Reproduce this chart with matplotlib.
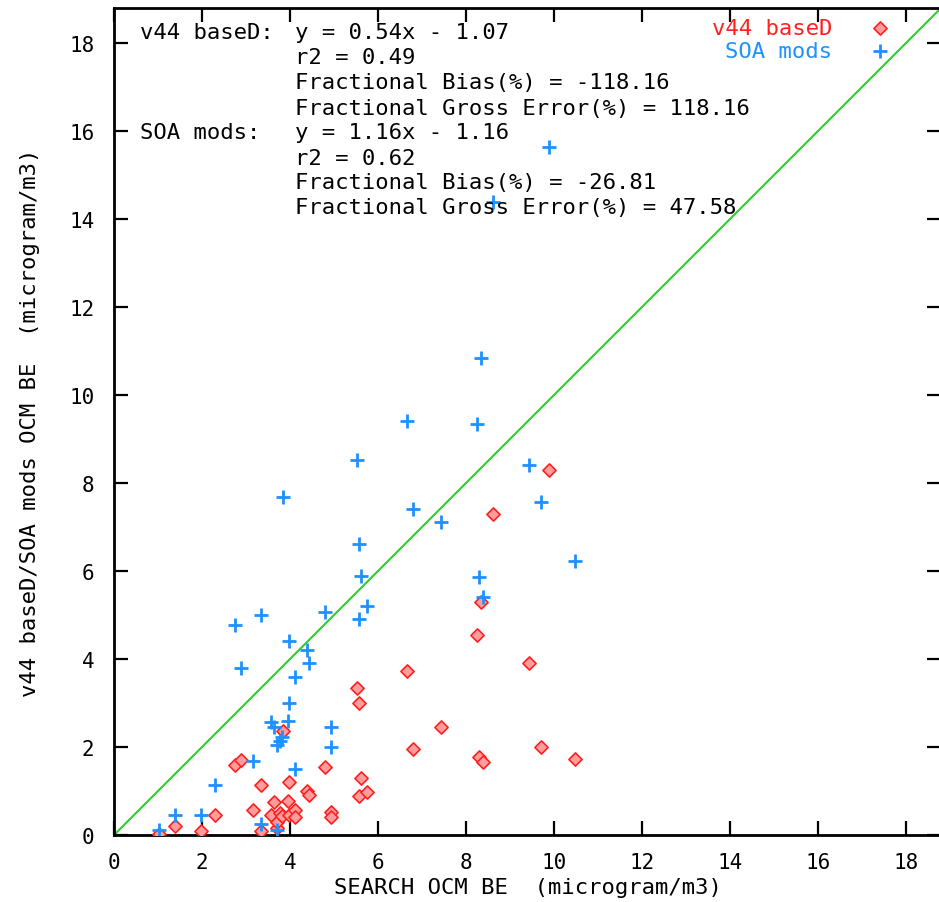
import matplotlib
matplotlib.use("Agg")
import matplotlib.pyplot as plt

# ---- data ----
search_ocm = [1.02, 1.39, 1.98, 2.30, 2.74, 2.89, 3.16, 3.34, 3.34, 3.57,
              3.64, 3.70, 3.70, 3.77, 3.81, 3.83, 3.95, 3.98, 3.98, 4.12,
              4.12, 4.39, 4.43, 4.80, 4.93, 4.93, 5.52, 5.57, 5.57, 5.61,
              5.74, 6.67, 6.80, 7.43, 8.25, 8.30, 8.35, 8.39, 8.61, 9.44,
              9.70, 9.89, 10.48]
v44_based = [0.02, 0.20, 0.10, 0.46, 1.59, 1.70, 0.56, 1.14, 0.10, 0.46,
             0.74, 0.17, 0.29, 0.50, 0.44, 2.37, 0.78, 1.21, 0.46, 0.57,
             0.40, 1.00, 0.91, 1.55, 0.52, 0.42, 3.34, 3.01, 0.88, 1.29,
             0.97, 3.73, 1.95, 2.46, 4.55, 1.78, 5.29, 1.65, 7.29, 3.91,
             2.00, 8.29, 1.73]
soa_mods = [0.11, 0.46, 0.46, 1.14, 4.78, 3.80, 1.69, 5.01, 0.24, 2.56,
            2.46, 0.11, 2.05, 2.14, 2.22, 7.69, 2.60, 4.42, 3.01, 3.60,
            1.51, 4.20, 3.92, 5.06, 2.46, 2.01, 8.52, 6.61, 4.92, 5.88,
            5.20, 9.42, 7.42, 7.11, 9.33, 5.86, 10.83, 5.42, 14.39, 8.42,
            7.56, 15.64, 6.23]
series_names = ["v44 baseD", "SOA mods"]
stats_v44 = ["y = 0.54x - 1.07", "r2 = 0.49",
             "Fractional Bias(%) = -118.16",
             "Fractional Gross Error(%) = 118.16"]
stats_soa = ["y = 1.16x - 1.16", "r2 = 0.62",
             "Fractional Bias(%) = -26.81",
             "Fractional Gross Error(%) = 47.58"]
ticks = [0, 2, 4, 6, 8, 10, 12, 14, 16, 18]
axis_max = 18.8

W, H = 939, 903
FONT = "DejaVu Sans Mono"
FS = 16
TFS = 15
RED = "#ff2020"
BLUE = "#1e90ff"
GREEN = "#30cc30"

plt.rcParams["font.family"] = FONT
fig = plt.figure(figsize=(W / 100, H / 100), dpi=100)
ax = fig.add_axes([114 / W, (H - 836) / H, 827.2 / W, 827.2 / H])
ax.set_xlim(0, axis_max)
ax.set_ylim(0, axis_max)

ax.plot([0, axis_max], [0, axis_max], color=GREEN, lw=1.5, zorder=1)
ax.scatter(search_ocm, v44_based, marker="D", s=45, facecolor="#ff9c9c",
           edgecolor=RED, linewidths=1.2, zorder=3)
ax.scatter(search_ocm, soa_mods, marker="+", s=110, color=BLUE,
           linewidths=2.0, zorder=4)

ax.set_xticks(ticks)
ax.set_yticks(ticks)
ax.tick_params(direction="in", length=10, width=1.6, top=True, right=True,
               labelsize=TFS, colors="black")
ax.tick_params(axis="x", pad=12)
ax.tick_params(axis="y", pad=14)
for s in ax.spines.values():
    s.set_linewidth(2)

ax.set_xlabel("SEARCH OCM BE  (microgram/m3)", fontsize=FS, labelpad=4)
ax.set_ylabel("v44 baseD/SOA mods OCM BE  (microgram/m3)", fontsize=FS,
              labelpad=21)

def fig_text(x, y, s, **kw):
    fig.text(x / W, 1 - y / H, s, fontsize=FS, va="center", **kw)

line_y = [33, 58, 83, 109, 133, 159, 183, 208]
fig_text(140, line_y[0], series_names[0] + ":")
fig_text(140, line_y[4], series_names[1] + ":")
for i, s in enumerate(stats_v44 + stats_soa):
    fig_text(295, line_y[i], s)

# legend
fig_text(832, 29, series_names[0], color=RED, ha="right")
fig_text(832, 52, series_names[1], color=BLUE, ha="right")
lax = fig.add_axes([0, 0, 1, 1], facecolor="none")
lax.set_xlim(0, W)
lax.set_ylim(H, 0)
lax.axis("off")
lax.scatter([880], [29], marker="D", s=45, facecolor="#ff9c9c",
            edgecolor=RED, linewidths=1.2)
lax.scatter([880], [52], marker="+", s=110, color=BLUE, linewidths=2.0)

fig.savefig("out.png", dpi=100)
